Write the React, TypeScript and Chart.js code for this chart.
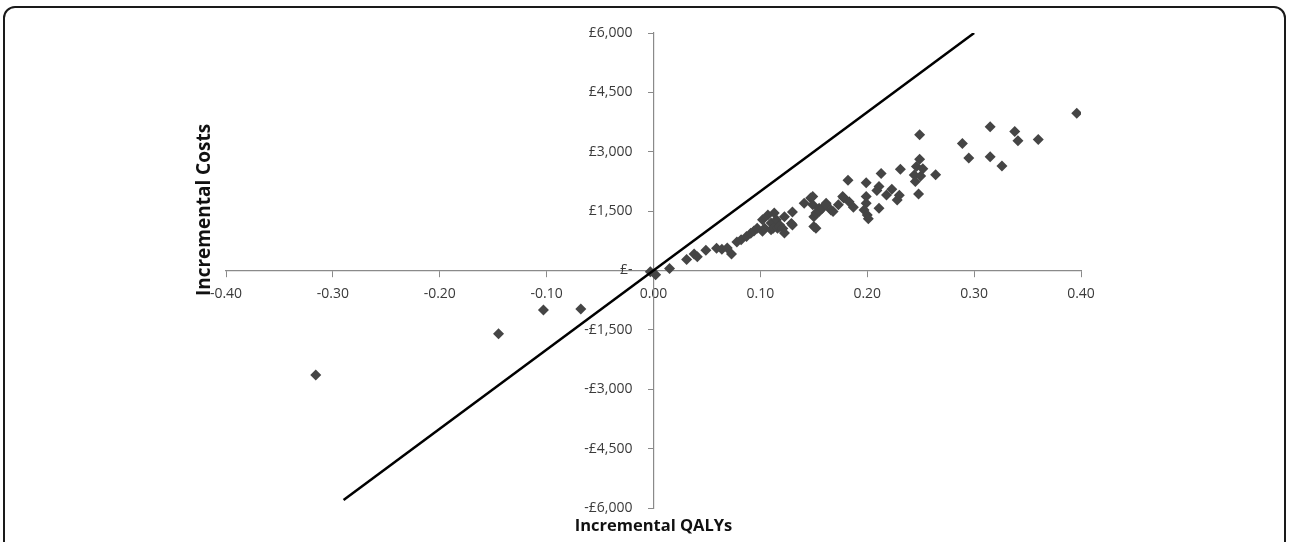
import { useEffect, useRef } from "react";
import { Chart, registerables } from "chart.js";

Chart.register(...registerables);

// Incremental QALYs (x) and incremental costs (y) of the simulated pairs
const QALYS = [
  -0.316, -0.145, -0.103, -0.068,
  -0.003, 0.002, 0.015,
  0.031, 0.038, 0.041, 0.049, 0.059, 0.064, 0.069, 0.073, 0.078, 0.082, 0.087, 0.091, 0.094, 0.097,
  0.102, 0.102, 0.104, 0.107, 0.110, 0.110, 0.112, 0.113, 0.115, 0.116, 0.118, 0.118, 0.121, 0.1225, 0.1225, 0.129, 0.130, 0.130,
  0.141, 0.147, 0.149, 0.149, 0.150, 0.150, 0.152, 0.152, 0.155, 0.155, 0.158, 0.1615, 0.1615, 0.166, 0.168, 0.173, 0.177, 0.178, 0.182, 0.183, 0.187,
  0.199, 0.199, 0.199, 0.197, 0.200, 0.201, 0.211, 0.209, 0.213, 0.211, 0.218, 0.223, 0.230, 0.228, 0.231,
  0.249, 0.249, 0.246, 0.252, 0.244, 0.250, 0.245, 0.248, 0.264,
  0.289, 0.295, 0.315, 0.315, 0.326, 0.338, 0.341, 0.360, 0.396,
];
const COSTS = [
  -2640, -1600, -1000, -975,
  -30, -110, 50,
  280, 420, 350, 510, 560, 540, 570, 420, 720, 780, 860, 940, 1000, 1070,
  1280, 990, 1070, 1400, 1200, 1030, 1070, 1450, 1280, 1070, 1150, 1110, 1060, 950, 1360, 1190, 1480, 1150,
  1700, 1830, 1870, 1660, 1360, 1110, 1450, 1070, 1570, 1490, 1570, 1700, 1660, 1530, 1490, 1660, 1870, 1830, 2280, 1740, 1600,
  2220, 1870, 1700, 1530, 1400, 1310, 2120, 2020, 2450, 1570, 1910, 2050, 1900, 1780, 2560,
  3430, 2810, 2630, 2570, 2410, 2390, 2250, 1930, 2420,
  3210, 2840, 3630, 2875, 2640, 3510, 3280, 3310, 3975,
];

// Willingness-to-pay threshold line (£20,000 per QALY)
const LINE_QALYS = [-0.29, 0.3];
const LINE_COSTS = [-5800, 6000];

// Axis ranges / ticks
const X_MIN = -0.4;
const X_MAX = 0.4;
const X_STEP = 0.1;
const Y_MIN = -6000;
const Y_MAX = 6000;
const Y_STEP = 1500;

const X_TITLE = "Incremental QALYs";
const Y_TITLE = "Incremental Costs";

const FONT = "'Open Sans', 'Liberation Sans', sans-serif";

function formatCost(v: number): string {
  if (v === 0) return "£-";
  const s = "£" + Math.abs(v).toLocaleString("en-GB");
  return v < 0 ? "-" + s : s;
}

// Centered y axis draws its labels flush against the axis line;
// move them left to leave room for the tick marks, as in the original.
const shifted = new WeakSet<object>();
const yLabelGapPlugin = {
  id: "yLabelGap",
  beforeDraw(chart: any) {
    const ys = chart.scales.y;
    const items = ys.getLabelItems(chart.chartArea);
    if (shifted.has(items)) return;
    shifted.add(items);
    items.forEach((it: any) => {
      it.options.translation[0] -= 21;
    });
  },
};

const titlesPlugin = {
  id: "axisTitles",
  afterDraw(chart: any) {
    const { ctx, chartArea } = chart;
    ctx.save();
    ctx.fillStyle = "#111";
    ctx.textAlign = "center";
    ctx.textBaseline = "middle";
    ctx.font = `bold 16.5px ${FONT}`;
    const xs = chart.scales.x;
    ctx.fillText(X_TITLE, xs.getPixelForValue(0), chartArea.bottom + 18);
    ctx.font = `bold 19px ${FONT}`;
    ctx.translate(205, 210);
    ctx.rotate(-Math.PI / 2);
    ctx.fillText(Y_TITLE, 0, 0);
    ctx.restore();
  },
};

export default function App() {
  const ref = useRef<HTMLCanvasElement | null>(null);

  useEffect(() => {
    if (!ref.current) return;
    const points = QALYS.map((q, i) => ({ x: q, y: COSTS[i] }));
    const line = LINE_QALYS.map((q, i) => ({ x: q, y: LINE_COSTS[i] }));
    const chart = new Chart(ref.current, {
      type: "scatter",
      data: {
        datasets: [
          {
            type: "line",
            label: "Threshold",
            data: line,
            borderColor: "#000",
            borderWidth: 2.5,
            pointRadius: 0,
            fill: false,
            order: 0,
          } as any,
          {
            label: "ICER",
            data: points,
            pointStyle: "rectRot",
            pointRadius: 5.5,
            pointBackgroundColor: "#454545",
            pointBorderWidth: 0,
            borderWidth: 0,
            backgroundColor: "#454545",
            order: 1,
          },
        ],
      },
      options: {
        responsive: false,
        animation: false,
        events: [],
        layout: { padding: { left: 226, right: 209, top: 33, bottom: 34 } },
        plugins: {
          legend: { display: false },
          tooltip: { enabled: false },
          title: { display: false },
        },
        scales: {
          x: {
            type: "linear",
            position: { y: 0 } as any,
            min: X_MIN,
            max: X_MAX,
            ticks: {
              stepSize: X_STEP,
              color: "#3a3a3a",
              font: { family: FONT, size: 14 },
              padding: 9,
              maxRotation: 0,
              callback: (v: any) => Number(v).toFixed(2),
            },
            grid: {
              display: true,
              drawOnChartArea: false,
              drawTicks: true,
              tickLength: 6,
              color: "#8a8a8a",
            },
            border: { display: true, color: "#8a8a8a", width: 1.2 },
          },
          y: {
            type: "linear",
            position: { x: 0 } as any,
            min: Y_MIN,
            max: Y_MAX,
            ticks: {
              stepSize: Y_STEP,
              color: "#3a3a3a",
              font: { family: FONT, size: 14 },
              callback: (v: any) => formatCost(Number(v)),
            },
            grid: {
              display: true,
              drawOnChartArea: false,
              drawTicks: true,
              tickLength: 5,
              color: "#8a8a8a",
            },
            border: { display: true, color: "#8a8a8a", width: 1.2 },
          },
        },
      },
      plugins: [yLabelGapPlugin, titlesPlugin],
    });
    return () => chart.destroy();
  }, []);

  return (
    <div
      style={{
        position: "fixed",
        left: 0,
        top: 0,
        width: 1290,
        height: 542,
        overflow: "hidden",
        background: "#fff",
      }}
    >
      <div
        style={{
          position: "absolute",
          left: 3,
          top: 6,
          width: 1283,
          height: 620,
          border: "2px solid #1a1a1a",
          borderRadius: 12,
          boxSizing: "border-box",
        }}
      />
      <canvas
        ref={ref}
        width={1290}
        height={542}
        style={{ position: "absolute", left: 0, top: 0, width: 1290, height: 542 }}
      />
    </div>
  );
}
